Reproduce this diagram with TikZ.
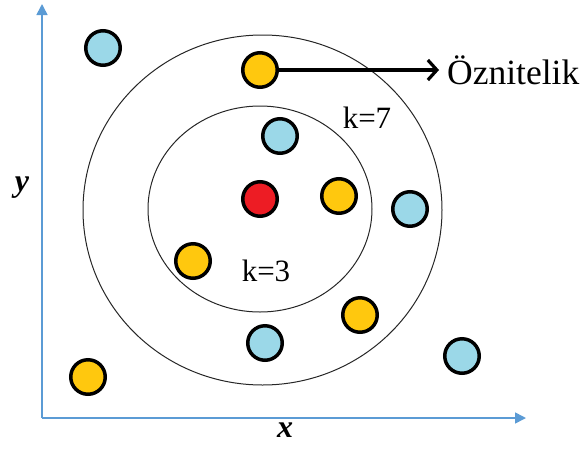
\documentclass[tikz,border=0pt]{standalone}
\usepackage{fontspec}
\setmainfont{Liberation Serif}
\usetikzlibrary{arrows.meta}
\definecolor{axisblue}{RGB}{91,155,213}
\definecolor{dotblue}{RGB}{155,216,232}
\definecolor{dotyellow}{RGB}{255,200,14}
\definecolor{dotred}{RGB}{237,28,36}
\tikzset{
  dot/.style={circle, draw=black, line width=3.5pt, minimum size=34.5pt, inner sep=0pt},
  bdot/.style={dot, fill=dotblue},
  ydot/.style={dot, fill=dotyellow},
  rdot/.style={dot, fill=dotred},
  ring/.style={draw=black!85, line width=1pt},
  axis/.style={draw=axisblue, line width=1.6pt, -{Triangle[length=11pt,width=11pt]}},
  lbl/.style={inner sep=0pt, font=\fontsize{31}{36}\selectfont},
  axlbl/.style={inner sep=0pt, font=\fontsize{32}{36}\selectfont\bfseries\itshape},
}
\begin{document}
\begin{tikzpicture}[x=1pt,y=-1pt]
\useasboundingbox (0,0) rectangle (581,448);
% axes
\coordinate (o) at (42,418);
\coordinate (ytip) at (42,4);
\coordinate (xtip) at (526,418);
\draw[axis] (o) -- (ytip);
\draw[axis] (o) -- (xtip);
\node[axlbl] (ylab) at (22,188) {y};
\node[axlbl] (xlab) at (285,430) {x};
% rings
\draw[ring] (262.5,210) ellipse [x radius=179.5, y radius=175];
\draw[ring] (260,209) ellipse [x radius=112, y radius=103];
% dots
\node[bdot] (b1) at (103,48) {};
\node[ydot] (y1) at (260,70) {};
\node[bdot] (b2) at (280,136) {};
\node[rdot] (r1) at (260,199) {};
\node[ydot] (y2) at (339,196) {};
\node[bdot] (b3) at (410,209) {};
\node[ydot] (y3) at (193,261) {};
\node[bdot] (b4) at (265,343) {};
\node[ydot] (y4) at (88,377) {};
\node[ydot] (y5) at (360,315) {};
\node[bdot] (b5) at (462,356) {};
% labels
\node[lbl, anchor=base] (k7) at (367,128) {k=7};
\node[lbl, anchor=base] (k3) at (266,281) {k=3};
\node[inner sep=0pt, anchor=base west, font=\fontsize{35.5}{40}\selectfont] (oz) at (447,84) {Öznitelik};
\draw[line width=3.2pt, -{Straight Barb[length=9pt,width=20pt]}] (y1.east) -- ([xshift=-8pt]oz.west |- y1.east);
\end{tikzpicture}
\end{document}
